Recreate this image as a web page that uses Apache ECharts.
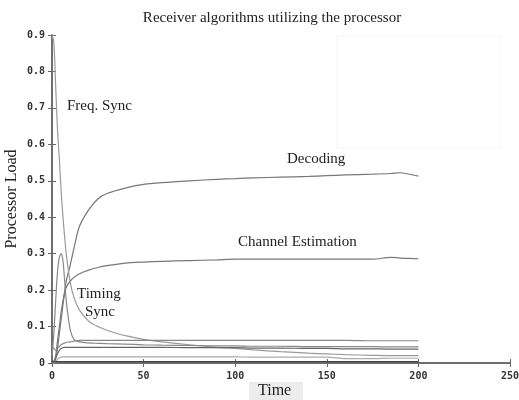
<!DOCTYPE html>
<html><head><meta charset="utf-8">
<script src="https://cdn.jsdelivr.net/npm/echarts@6/dist/echarts.min.js"></script>
<style>html,body{margin:0;padding:0;background:#fff}#c{width:519px;height:400px}</style>
</head><body><div id="c"></div>
<script>
var times =        [0,   1,    2,    3,    4,    5,    6,    7,    8,    10,   12,   15,   20,   25,   30,   40,   50,   60,   75,   90,   100,  110,  125,  140,  150,  160,  175,  185,  190,  195,  200];
var decoding =     [0,   0,    0.01, 0.04, 0.08, 0.12, 0.16, 0.2,  0.23, 0.27, 0.315,0.375,0.42, 0.45, 0.465,0.48, 0.49, 0.495,0.5,  0.504,0.506,0.508,0.51, 0.512,0.514,0.516,0.518,0.52, 0.522,0.518,0.513];
var channelEst =   [0,   0,    0.02, 0.06, 0.1,  0.14, 0.17, 0.195,0.21, 0.225,0.235,0.245,0.255,0.262,0.267,0.274,0.277,0.279,0.281,0.283,0.285,0.285,0.285,0.285,0.285,0.285,0.285,0.29, 0.288,0.287,0.286];
var freqSync =     [0.9, 0.88, 0.76, 0.64, 0.56, 0.47, 0.4,  0.34, 0.29, 0.22, 0.18, 0.145,0.115,0.1,  0.09, 0.075,0.065,0.058,0.05, 0.043,0.04, 0.036,0.031,0.027,0.025,0.023,0.021,0.02, 0.02, 0.02, 0.02];
var timingSync =   [0.02,0.08, 0.17, 0.25, 0.29, 0.3,  0.28, 0.22, 0.16, 0.09, 0.065,0.058,0.055,0.054,0.053,0.052,0.05, 0.049,0.048,0.047,0.047,0.046,0.046,0.045,0.045,0.045,0.045,0.044,0.044,0.044,0.044];
var otherA =       [0.045,0.04,0.035,0.04, 0.045,0.05, 0.053,0.055,0.057,0.058,0.06, 0.062,0.062,0.062,0.062,0.062,0.062,0.062,0.062,0.062,0.062,0.062,0.062,0.062,0.062,0.062,0.061,0.061,0.061,0.061,0.061];
var otherB =       [0,   0.005,0.015,0.025,0.035,0.04, 0.042,0.043,0.043,0.043,0.043,0.043,0.043,0.043,0.043,0.043,0.043,0.043,0.042,0.042,0.042,0.041,0.041,0.04, 0.04, 0.039,0.039,0.038,0.038,0.038,0.038];
var otherC =       [0,   0,    0.005,0.01, 0.014,0.016,0.017,0.017,0.017,0.017,0.017,0.017,0.017,0.017,0.017,0.017,0.017,0.017,0.017,0.017,0.017,0.016,0.016,0.016,0.016,0.012,0.012,0.013,0.013,0.013,0.013];
var otherD =       [0.003,0.004,0.004,0.004,0.004,0.004,0.004,0.004,0.004,0.004,0.004,0.004,0.004,0.004,0.004,0.004,0.004,0.004,0.004,0.004,0.004,0.004,0.004,0.004,0.004,0.004,0.004,0.004,0.004,0.004,0.004];
var xTicks = {min: 0, max: 250, interval: 50};
var yTicks = {min: 0, max: 0.9, interval: 0.1};

function pairs(ys){ return times.map(function(t,i){ return [t, ys[i]]; }); }
var seriesDefs = [
  ['Decoding', decoding, '#777'],
  ['Channel Estimation', channelEst, '#777'],
  ['Freq. Sync', freqSync, '#9a9a9a'],
  ['Timing Sync', timingSync, '#888'],
  ['A', otherA, '#888'],
  ['B', otherB, '#666'],
  ['C', otherC, '#aaa'],
  ['D', otherD, '#444']
];
var tickFont = {fontFamily: 'DejaVu Sans Mono', fontWeight: 'bold', fontSize: 10, color: '#333'};
var axisLine = {lineStyle: {color: '#666', width: 1.5}};
var chart = echarts.init(document.getElementById('c'));
chart.setOption({
  animation: false,
  backgroundColor: '#fff',
  title: {text: 'Receiver algorithms utilizing the processor', left: 267, top: 6, textAlign: 'center',
    textStyle: {fontFamily: 'Liberation Serif', fontWeight: 'normal', fontSize: 15, color: '#222'}},
  grid: {left: 52, right: 9, top: 35, bottom: 37, containLabel: false, outerBoundsMode: 'none'},
  xAxis: [
    {type: 'value', min: xTicks.min, max: xTicks.max, interval: xTicks.interval, position: 'bottom',
     axisLine: axisLine, axisTick: {inside: true, length: 4, lineStyle: {color: '#666'}},
     axisLabel: Object.assign({margin: 8}, tickFont), splitLine: {show: false}},
    {type: 'value', min: xTicks.min, max: xTicks.max, interval: xTicks.interval, position: 'top',
     axisLine: axisLine, axisTick: {inside: true, length: 4, lineStyle: {color: '#666'}},
     axisLabel: {show: false}, splitLine: {show: false}}
  ],
  yAxis: [
    {type: 'value', min: yTicks.min, max: yTicks.max, interval: yTicks.interval, position: 'left',
     name: 'Processor Load', nameLocation: 'middle', nameGap: 32, nameMoveOverlap: false,
     nameTextStyle: {fontFamily: 'Liberation Serif', fontSize: 16, color: '#222'},
     axisLine: axisLine, axisTick: {inside: true, length: 4, lineStyle: {color: '#666'}},
     axisLabel: Object.assign({margin: 7, formatter: function(v){ return v === 0 ? '0' : v.toFixed(1); }}, tickFont),
     splitLine: {show: false}},
    {type: 'value', min: yTicks.min, max: yTicks.max, interval: yTicks.interval, position: 'right',
     axisLine: axisLine, axisTick: {inside: true, length: 4, lineStyle: {color: '#666'}},
     axisLabel: {show: false}, splitLine: {show: false}}
  ],
  series: seriesDefs.map(function(d){
    return {name: d[0], type: 'line', data: pairs(d[1]), xAxisIndex: 0, yAxisIndex: 0,
      showSymbol: false, symbol: 'none', smooth: 0.3,
      lineStyle: {color: d[2], width: 1.2}};
  }),
  graphic: [
    {type: 'rect', shape: {x: 337, y: 36, width: 163, height: 112}, style: {fill: 'none', stroke: '#f5f5f5', lineWidth: 1}, z: -1},
    {type: 'text', left: 67, top: 99, style: {text: 'Freq. Sync', font: '15px "Liberation Serif"', fill: '#222'}},
    {type: 'text', left: 287, top: 152, style: {text: 'Decoding', font: '15px "Liberation Serif"', fill: '#222'}},
    {type: 'text', left: 238, top: 235, style: {text: 'Channel Estimation', font: '15px "Liberation Serif"', fill: '#222'}},
    {type: 'text', left: 77, top: 287, style: {text: 'Timing', font: '15px "Liberation Serif"', fill: '#222'}},
    {type: 'text', left: 85, top: 305, style: {text: 'Sync', font: '15px "Liberation Serif"', fill: '#222'}},
    {type: 'rect', shape: {x: 249, y: 382, width: 54, height: 18}, style: {fill: '#ececec'}},
    {type: 'text', left: 258, top: 383, style: {text: 'Time', font: '16px "Liberation Serif"', fill: '#222'}}
  ]
});
</script></body></html>
